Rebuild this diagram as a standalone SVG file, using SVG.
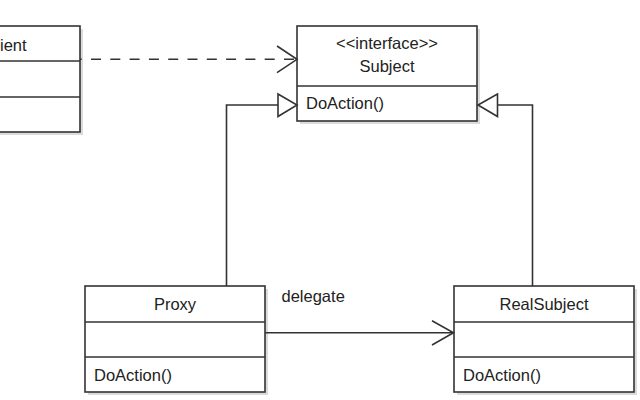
<svg xmlns="http://www.w3.org/2000/svg" width="640" height="400" viewBox="0 0 640 400">
<style>
.box{fill:#fff;stroke:#333;stroke-width:1.6}
.sh{fill:#000;opacity:0.14}
.ln{fill:none;stroke:#333;stroke-width:1.6}
.t{font-family:"Liberation Sans",Arial,sans-serif;font-size:16.5px;fill:#222}
.c{text-anchor:middle}
</style>
<rect width="640" height="400" fill="#fff"/>
<g id="client">
<rect class="sh" x="-67" y="29" width="150" height="106"/>
<rect class="box" x="-70" y="26" width="150" height="106"/>
<line class="ln" x1="-70" y1="61" x2="80" y2="61"/>
<line class="ln" x1="-70" y1="97" x2="80" y2="97"/>
<text class="t c" x="5.5" y="50.5">Client</text>
</g>
<g id="subject">
<rect class="sh" x="300" y="29" width="180" height="95"/>
<rect class="box" x="297" y="26" width="180" height="95"/>
<line class="ln" x1="297" y1="86" x2="477" y2="86"/>
<text class="t c" x="387" y="49">&lt;&lt;interface&gt;&gt;</text>
<text class="t c" x="387" y="72">Subject</text>
<text class="t" x="306" y="109">DoAction()</text>
</g>
<g id="proxy">
<rect class="sh" x="88" y="289" width="180" height="106"/>
<rect class="box" x="85" y="286" width="180" height="106"/>
<line class="ln" x1="85" y1="322" x2="265" y2="322"/>
<line class="ln" x1="85" y1="357" x2="265" y2="357"/>
<text class="t c" x="175" y="310">Proxy</text>
<text class="t" x="94" y="381">DoAction()</text>
</g>
<g id="realsubject">
<rect class="sh" x="457" y="289" width="180" height="106"/>
<rect class="box" x="454" y="286" width="180" height="106"/>
<line class="ln" x1="454" y1="322" x2="634" y2="322"/>
<line class="ln" x1="454" y1="357" x2="634" y2="357"/>
<text class="t c" x="544" y="310">RealSubject</text>
<text class="t" x="463" y="381">DoAction()</text>
</g>
<g id="connectors">
<line class="ln" x1="80" y1="59.3" x2="296" y2="59.3" stroke-dasharray="10 9.3" stroke-dashoffset="8.3"/>
<polyline class="ln" points="277,46 297,59.3 277,72.7"/>
<polyline class="ln" points="226.5,286 226.5,105 278,105"/>
<polygon class="ln" fill="#fff" points="278,94 297,105 278,116.5"/>
<polyline class="ln" points="532.5,286 532.5,105 497.5,105"/>
<polygon class="ln" fill="#fff" points="497.5,94 478,105 497.5,116.5"/>
<line class="ln" x1="265" y1="332.7" x2="453" y2="332.7"/>
<polyline class="ln" points="432,320.7 453.5,332.7 432,345"/>
<text class="t" x="281.5" y="302">delegate</text>
</g>
</svg>
